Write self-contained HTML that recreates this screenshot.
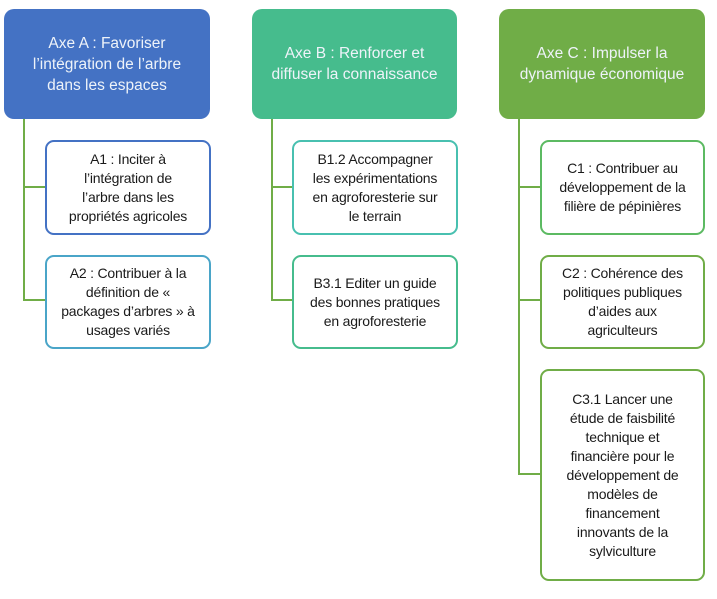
<!DOCTYPE html>
<html><head><meta charset="utf-8"><style>
body{margin:0;width:717px;height:599px;background:#fff;position:relative;overflow:hidden;font-family:"Liberation Sans",sans-serif}
.b{position:absolute;box-sizing:border-box;display:flex;align-items:center;justify-content:center;text-align:center;white-space:nowrap}
.h{border-radius:10px;color:#eef3f9;font-size:15.5px;line-height:21px}
.c{border-radius:9px;border:2px solid;background:#fff;color:#1a1a1a;font-size:14px;line-height:19px;letter-spacing:-0.2px}
.l{position:absolute;background:#70ad47}
</style></head><body>
<div class="l" style="left:23px;top:119px;width:2px;height:182px"></div>
<div class="l" style="left:23px;top:186px;width:23px;height:2px"></div>
<div class="l" style="left:23px;top:299px;width:23px;height:2px"></div>
<div class="l" style="left:271px;top:119px;width:2px;height:182px"></div>
<div class="l" style="left:271px;top:186px;width:23px;height:2px"></div>
<div class="l" style="left:271px;top:299px;width:23px;height:2px"></div>
<div class="l" style="left:518px;top:119px;width:2px;height:356px"></div>
<div class="l" style="left:518px;top:186px;width:23px;height:2px"></div>
<div class="l" style="left:518px;top:299px;width:23px;height:2px"></div>
<div class="l" style="left:518px;top:473px;width:23px;height:2px"></div>

<div class="b h" style="left:4px;top:9px;width:206px;height:110px;background:#4472c4">Axe A : Favoriser<br>l’intégration de l’arbre<br>dans les espaces</div>
<div class="b h" style="left:252px;top:9px;width:205px;height:110px;background:#46bc8d">Axe B : Renforcer et<br>diffuser la connaissance</div>
<div class="b h" style="left:499px;top:9px;width:206px;height:110px;background:#70ad47">Axe C : Impulser la<br>dynamique économique</div>

<div class="b c" style="left:45px;top:140px;width:166px;height:95px;border-color:#4472c4">A1 : Inciter à<br>l’intégration de<br>l’arbre dans les<br>propriétés agricoles</div>
<div class="b c" style="left:45px;top:255px;width:166px;height:94px;border-color:#4aa5c8">A2 : Contribuer à la<br>définition de «<br>packages d’arbres » à<br>usages variés</div>
<div class="b c" style="left:292px;top:140px;width:166px;height:95px;border-color:#48c0b0">B1.2 Accompagner<br>les expérimentations<br>en agroforesterie sur<br>le terrain</div>
<div class="b c" style="left:292px;top:255px;width:166px;height:94px;border-color:#46bc8d">B3.1 Editer un guide<br>des bonnes pratiques<br>en agroforesterie</div>
<div class="b c" style="left:540px;top:140px;width:165px;height:95px;border-color:#5cba62">C1 : Contribuer au<br>développement de la<br>filière de pépinières</div>
<div class="b c" style="left:540px;top:255px;width:165px;height:94px;border-color:#70ad47">C2 : Cohérence des<br>politiques publiques<br>d’aides aux<br>agriculteurs</div>
<div class="b c" style="left:540px;top:369px;width:165px;height:212px;border-color:#70ad47">C3.1 Lancer une<br>étude de faisbilité<br>technique et<br>financière pour le<br>développement de<br>modèles de<br>financement<br>innovants de la<br>sylviculture</div>
</body></html>
